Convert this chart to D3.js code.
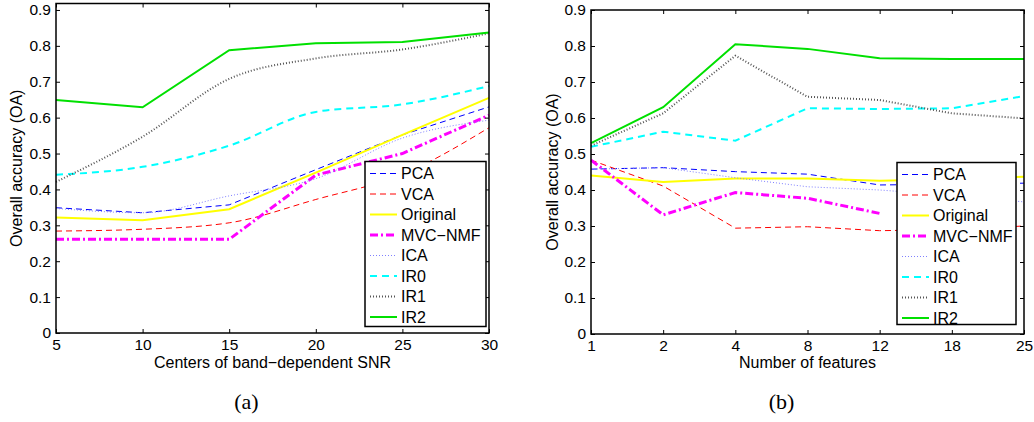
<!DOCTYPE html>
<html>
<head>
<meta charset="utf-8">
<script src="https://cdn.jsdelivr.net/npm/d3@7"></script>
<style>
  body { margin: 0; background: #fff; }
  text { font-family: "Liberation Sans", Arial, Helvetica, sans-serif; }
</style>
</head>
<body>
<div id="chart"></div>
<script>
// ---- data ----
var methods = ["PCA", "VCA", "Original", "MVC\u2212NMF", "ICA", "IR0", "IR1", "IR2"];

// (a) centers of band-dependent SNR
var snrTicks = [5, 10, 15, 20, 25, 30];
var snrPCA      = [0.349, 0.335, 0.357, 0.455, 0.552, 0.630];
var snrVCA      = [0.284, 0.289, 0.307, 0.372, 0.442, 0.572];
var snrOriginal = [0.322, 0.314, 0.345, 0.447, 0.552, 0.655];
var snrMVC      = [0.261, 0.261, 0.261, 0.440, 0.500, 0.607];
var snrICA      = [0.347, 0.335, 0.382, 0.430, 0.543, 0.593];
var snrIR0      = [0.441, 0.463, 0.522, 0.616, 0.637, 0.688];
var snrIR1      = [0.421, 0.547, 0.708, 0.765, 0.790, 0.835];
var snrIR2      = [0.649, 0.629, 0.788, 0.807, 0.811, 0.837];

// (b) number of features
var featTicks = ["1", "2", "4", "8", "12", "18", "25"];
var featPCA      = [0.458, 0.462, 0.451, 0.444, 0.414, 0.416, 0.419];
var featVCA      = [0.483, 0.411, 0.294, 0.298, 0.287, 0.290, 0.300];
var featOriginal = [0.440, 0.422, 0.432, 0.432, 0.426, 0.430, 0.437];
var featMVC      = [0.483, 0.331, 0.393, 0.377, 0.335, null, null];
var featICA      = [0.458, 0.462, 0.434, 0.409, 0.400, 0.385, 0.367];
var featIR0      = [0.520, 0.562, 0.537, 0.627, 0.625, 0.627, 0.661];
var featIR1      = [0.523, 0.613, 0.773, 0.659, 0.650, 0.613, 0.599];
var featIR2      = [0.530, 0.630, 0.805, 0.792, 0.766, 0.764, 0.764];

var yTicks = [0, 0.1, 0.2, 0.3, 0.4, 0.5, 0.6, 0.7, 0.8, 0.9];

// line styles, same order as methods
var styles = [
  { color: "#0000ff", width: 1,   dash: "6,4" },
  { color: "#ff0000", width: 1,   dash: "6,4" },
  { color: "#ffff00", width: 2,   dash: null },
  { color: "#ff00ff", width: 3,   dash: "8,3,2,3" },
  { color: "#8080ff", width: 1,   dash: "1,2" },
  { color: "#00ffff", width: 2,   dash: "7,5" },
  { color: "#555555", width: 2,   dash: "1,2" },
  { color: "#00e000", width: 2,   dash: null }
];

var svg = d3.select("#chart").append("svg")
    .attr("width", 1034)
    .attr("height", 422);

svg.append("rect").attr("width", 1034).attr("height", 422).attr("fill", "#fff");

function drawPanel(opt) {
    var g = svg.append("g");
    var x = opt.x, y = opt.y;
    var left = opt.left, right = opt.right, top = opt.top, bottom = opt.bottom;

    opt.series.forEach(function(vals, i) {
        var pts = vals.map(function(v, j) { return { k: opt.keys[j], v: v }; });
        var s = styles[i];
        var line = d3.line()
            .defined(function(d) { return d.v != null; })
            .x(function(d) { return x(d.k); })
            .y(function(d) { return y(d.v); })
            .curve(opt.smooth[i] ? d3.curveMonotoneX : d3.curveLinear);
        g.append("path")
            .datum(pts)
            .attr("d", line)
            .attr("fill", "none")
            .attr("stroke", s.color)
            .attr("stroke-width", s.width)
            .attr("stroke-dasharray", s.dash);
    });

    // axes, ticks pointing inward like matlab
    g.append("g")
        .attr("transform", "translate(0," + bottom + ")")
        .call(d3.axisBottom(x).tickValues(opt.keys).tickFormat(opt.xFormat).tickSizeInner(-4).tickSizeOuter(0).tickPadding(6))
        .call(styleAxis);
    g.append("g")
        .attr("transform", "translate(0," + top + ")")
        .call(d3.axisTop(x).tickValues(opt.keys).tickFormat("").tickSizeInner(-4).tickSizeOuter(0))
        .call(styleAxis);
    g.append("g")
        .attr("transform", "translate(" + left + ",0)")
        .call(d3.axisLeft(y).tickValues(yTicks).tickFormat(d3.format("~g")).tickSizeInner(-4).tickSizeOuter(0).tickPadding(5))
        .call(styleAxis);
    g.append("g")
        .attr("transform", "translate(" + right + ",0)")
        .call(d3.axisRight(y).tickValues(yTicks).tickFormat("").tickSizeInner(-4).tickSizeOuter(0))
        .call(styleAxis);

    g.append("rect")
        .attr("x", left).attr("y", top)
        .attr("width", right - left).attr("height", bottom - top)
        .attr("fill", "none").attr("stroke", "#000").attr("stroke-width", 1.5);

    // axis titles
    g.append("text")
        .attr("transform", "translate(" + opt.yTitleX + "," + (top + bottom) / 2 + ") rotate(-90)")
        .attr("text-anchor", "middle")
        .attr("dy", "0.35em")
        .style("font-size", "16px")
        .text("Overall accuracy (OA)");
    g.append("text")
        .attr("x", (left + right) / 2)
        .attr("y", 368)
        .attr("text-anchor", "middle")
        .style("font-size", "16px")
        .text(opt.xTitle);

    g.append("text")
        .attr("x", (left + right) / 2 - 26)
        .attr("y", 409)
        .attr("text-anchor", "middle")
        .style("font-family", "'Liberation Serif', 'Times New Roman', serif")
        .style("font-size", "22px")
        .text(opt.caption);

    // legend
    var lg = g.append("g");
    lg.append("rect")
        .attr("x", opt.legend.x).attr("y", opt.legend.y)
        .attr("width", opt.legend.w).attr("height", opt.legend.h)
        .attr("fill", "#fff").attr("stroke", "#000").attr("stroke-width", 1.5);
    methods.forEach(function(name, i) {
        var ry = opt.legend.y + 12 + i * 20.5;
        var s = styles[i];
        lg.append("line")
            .attr("x1", opt.legend.x + 5).attr("x2", opt.legend.x + 32)
            .attr("y1", ry).attr("y2", ry)
            .attr("stroke", s.color)
            .attr("stroke-width", s.width)
            .attr("stroke-dasharray", s.dash);
        lg.append("text")
            .attr("x", opt.legend.x + 36)
            .attr("y", ry)
            .attr("dy", "0.35em")
            .style("font-size", "16px")
            .text(name);
    });
}

function styleAxis(sel) {
    sel.select(".domain").remove();
    sel.selectAll(".tick line").attr("stroke", "#000");
    sel.selectAll(".tick text").attr("fill", "#000").style("font-size", "15.5px")
        .style("font-family", "'Liberation Sans', Arial, Helvetica, sans-serif");
}

// panel (a)
var xa = d3.scaleLinear().domain([5, 30]).range([56, 489]);
var ya = d3.scaleLinear().domain([0, 0.918]).range([333, 3.5]);
drawPanel({
    x: xa, y: ya, left: 56, right: 489, top: 3.5, bottom: 333,
    keys: snrTicks, xFormat: d3.format("d"),
    series: [snrPCA, snrVCA, snrOriginal, snrMVC, snrICA, snrIR0, snrIR1, snrIR2],
    smooth: [false, true, false, false, true, true, true, false],
    yTitleX: 16,
    xTitle: "Centers of band\u2212dependent SNR",
    caption: "(a)",
    legend: { x: 365, y: 161.5, w: 121, h: 165 }
});

// panel (b)
var xb = d3.scalePoint().domain(featTicks).range([591, 1024]);
var yb = d3.scaleLinear().domain([0, 0.9]).range([334, 10]);
drawPanel({
    x: xb, y: yb, left: 591, right: 1024, top: 10, bottom: 334,
    keys: featTicks, xFormat: function(d) { return d; },
    series: [featPCA, featVCA, featOriginal, featMVC, featICA, featIR0, featIR1, featIR2],
    smooth: [false, false, false, false, false, false, false, false],
    yTitleX: 552,
    xTitle: "Number of features",
    caption: "(b)",
    legend: { x: 897, y: 162.5, w: 119, h: 162 }
});
</script>
</body>
</html>
